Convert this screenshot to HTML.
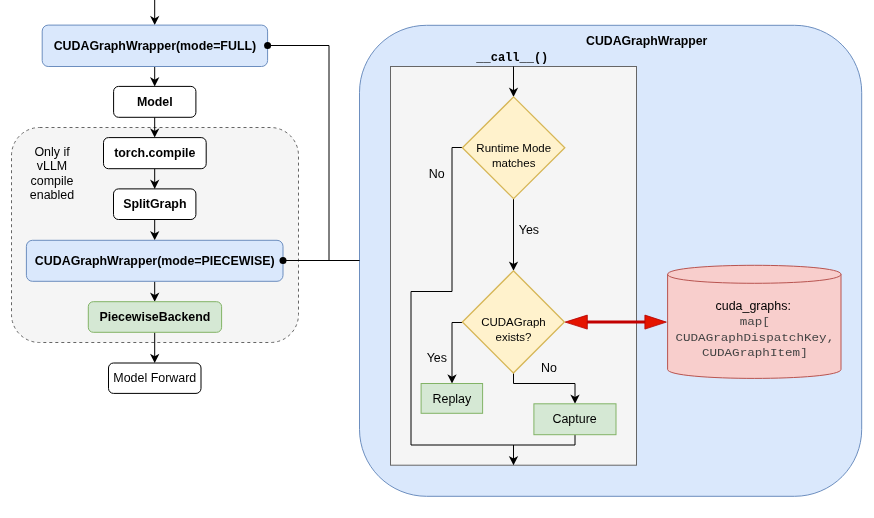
<!DOCTYPE html>
<html><head><meta charset="utf-8">
<style>
html,body{margin:0;padding:0;background:#fff;width:874px;height:518px;overflow:hidden}
svg{position:absolute;left:0;top:0;will-change:transform}
text{font-family:"Liberation Sans",sans-serif;fill:#000}
.b{font-weight:bold;font-size:12.4px}
.r12{font-size:12.45px}
.m12{font-size:12.6px}
.r11{font-size:11.5px}
.mono{font-family:"Liberation Mono",monospace}
</style></head>
<body>
<svg width="874" height="518" viewBox="0 0 874 518">
<!-- big container -->
<rect x="359.5" y="25.3" width="502.2" height="471" rx="67" ry="67" fill="#dae8fc" stroke="#6c8ebf" stroke-width="1"/>
<!-- dashed group -->
<rect x="11.5" y="127.5" width="287" height="215" rx="28" ry="28" fill="#f5f5f5" stroke="#666666" stroke-width="1" stroke-dasharray="3 3"/>

<!-- left connectors -->
<path d="M267.6 45.5 H329 V260.5" fill="none" stroke="#000" stroke-width="1"/>
<path d="M283 260.5 H359.6" fill="none" stroke="#000" stroke-width="1"/>

<!-- left column lines -->
<g stroke="#000" stroke-width="1" fill="none">
<path d="M154.7 0 V20"/>
<path d="M154.7 66.5 V81"/>
<path d="M154.7 117.3 V132"/>
<path d="M154.7 168.7 V183"/>
<path d="M154.7 219.5 V235"/>
<path d="M154.7 281.3 V296"/>
<path d="M154.7 332.3 V357"/>
</g>
<g fill="#000">
<polygon points="154.7,25.1 150.0,15.80 154.7,18.40 159.4,15.80"/>
<polygon points="154.7,86.4 150.0,77.10 154.7,79.70 159.4,77.10"/>
<polygon points="154.7,137.6 150.0,128.30 154.7,130.90 159.4,128.30"/>
<polygon points="154.7,188.9 150.0,179.60 154.7,182.20 159.4,179.60"/>
<polygon points="154.7,240.3 150.0,231.00 154.7,233.60 159.4,231.00"/>
<polygon points="154.7,301.7 150.0,292.40 154.7,295.00 159.4,292.40"/>
<polygon points="154.7,363.0 150.0,353.70 154.7,356.30 159.4,353.70"/>
</g>

<!-- left boxes -->
<rect x="42.2" y="25.1" width="225.4" height="41.4" rx="6" fill="#dae8fc" stroke="#6c8ebf"/>
<rect x="113.6" y="86.4" width="82.3" height="30.9" rx="5" fill="#fff" stroke="#000"/>
<rect x="103.5" y="137.6" width="102.7" height="31.1" rx="5" fill="#fff" stroke="#000"/>
<rect x="113.5" y="188.9" width="82.4" height="30.6" rx="5" fill="#fff" stroke="#000"/>
<rect x="26.4" y="240.3" width="256.6" height="41" rx="6" fill="#dae8fc" stroke="#6c8ebf"/>
<rect x="88.3" y="301.7" width="133.3" height="30.6" rx="5" fill="#d5e8d4" stroke="#82b366"/>
<rect x="108.5" y="363" width="92.5" height="30.4" rx="5" fill="#fff" stroke="#000"/>

<circle cx="267.6" cy="45.5" r="3.5" fill="#000"/>
<circle cx="283" cy="260.5" r="3.5" fill="#000"/>

<text class="b" x="154.9" y="50.3" text-anchor="middle">CUDAGraphWrapper(mode=FULL)</text>
<text class="b" x="154.8" y="106" text-anchor="middle">Model</text>
<text class="b" x="154.8" y="157.3" text-anchor="middle">torch.compile</text>
<text class="b" x="154.8" y="208.3" text-anchor="middle">SplitGraph</text>
<text class="b" x="154.7" y="264.8" text-anchor="middle">CUDAGraphWrapper(mode=PIECEWISE)</text>
<text class="b" x="154.9" y="321.3" text-anchor="middle">PiecewiseBackend</text>
<text class="r12" x="154.8" y="382.2" text-anchor="middle">Model Forward</text>

<text class="r12" x="52" y="155.7" text-anchor="middle">Only if</text>
<text class="r12" x="52" y="170.2" text-anchor="middle">vLLM</text>
<text class="r12" x="52" y="185" text-anchor="middle">compile</text>
<text class="r12" x="52" y="199.2" text-anchor="middle">enabled</text>

<!-- right side -->
<text class="b" x="646.7" y="44.5" text-anchor="middle" style="font-size:12.3px">CUDAGraphWrapper</text>
<text class="mono" x="512.3" y="60.5" text-anchor="middle" style="font-weight:bold;font-size:12px">__call__()</text>

<rect x="390.5" y="66.5" width="246" height="398.7" fill="#f5f5f5" stroke="#666666"/>

<g stroke="#000" stroke-width="1" fill="none">
<path d="M513.5 66.5 V92"/>
<path d="M513.5 198.7 V266"/>
<path d="M462.5 322.5 H452 V378"/>
<path d="M513.5 373 V383.5 H575 V399"/>
<path d="M462.5 147.5 H452 V291.5 H411 V445 H575 V434.7"/>
<path d="M513.5 445 V460"/>
</g>
<g fill="#000">
<polygon points="513.5,96.9 508.8,87.6 513.5,90.2 518.2,87.6"/>
<polygon points="513.5,270.8 508.8,261.5 513.5,264.1 518.2,261.5"/>
<polygon points="452,383.5 447.3,374.2 452,376.8 456.7,374.2"/>
<polygon points="575,403.8 570.3,394.5 575,397.1 579.7,394.5"/>
<polygon points="513.5,465.2 508.8,455.9 513.5,458.5 518.2,455.9"/>
</g>

<polygon points="513.6,96.9 564.8,147.8 513.6,198.7 462.4,147.8" fill="#fff2cc" stroke="#d6b656" stroke-width="1.3"/>
<polygon points="513.4,270.8 564.4,322 513.4,373 462.4,322" fill="#fff2cc" stroke="#d6b656" stroke-width="1.3"/>

<text class="r11" x="513.75" y="151.9" text-anchor="middle">Runtime Mode</text>
<text class="r11" x="513.7" y="167.1" text-anchor="middle">matches</text>
<text class="r11" x="513.45" y="326.05" text-anchor="middle">CUDAGraph</text>
<text class="r11" x="513.5" y="341.4" text-anchor="middle">exists?</text>

<text class="r12" x="436.8" y="178" text-anchor="middle">No</text>
<text class="r12" x="528.9" y="234.1" text-anchor="middle">Yes</text>
<text class="r12" x="436.8" y="361.8" text-anchor="middle">Yes</text>
<text class="r12" x="549" y="372.1" text-anchor="middle">No</text>

<rect x="421.1" y="383.5" width="61.5" height="29.8" fill="#d5e8d4" stroke="#82b366"/>
<rect x="533.9" y="403.8" width="82.1" height="30.9" fill="#d5e8d4" stroke="#82b366"/>
<text class="r12" x="451.9" y="402.5" text-anchor="middle">Replay</text>
<text class="r12" x="574.6" y="423.4" text-anchor="middle">Capture</text>

<!-- cylinder -->
<path d="M667.6 274.3 C667.6 262.3 841 262.3 841 274.3 V369.4 C841 381.4 667.6 381.4 667.6 369.4 Z" fill="#f8cecc" stroke="#b85450"/>
<path d="M667.6 274.3 C667.6 286.3 841 286.3 841 274.3" fill="none" stroke="#b85450"/>
<text class="r12" x="753.2" y="309.6" text-anchor="middle">cuda_graphs:</text>
<text class="m12 mono" transform="translate(754.8 325.2) scale(1 0.86)" x="0" y="0" text-anchor="middle" style="fill:#444">map[</text>
<text class="m12 mono" transform="translate(754.8 340.6) scale(1 0.86)" x="0" y="0" text-anchor="middle" style="fill:#444">CUDAGraphDispatchKey,</text>
<text class="m12 mono" transform="translate(754.8 355.8) scale(1 0.86)" x="0" y="0" text-anchor="middle" style="fill:#444">CUDAGraphItem]</text>

<!-- red arrow -->
<path d="M586 322.1 H646" stroke="#c20000" stroke-width="3" fill="none"/>
<polygon points="565.2,322.1 587.3,315.1 587.3,329.1" fill="#e51400" stroke="#b20000" stroke-width="0.8"/>
<polygon points="666.3,322.1 644.9,315.1 644.9,329.1" fill="#e51400" stroke="#b20000" stroke-width="0.8"/>
</svg>
</body></html>
